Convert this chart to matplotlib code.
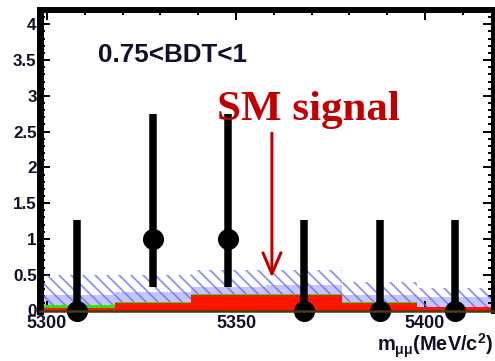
import numpy as np
import matplotlib
matplotlib.use("Agg")
import matplotlib.pyplot as plt
from matplotlib.ticker import MultipleLocator, FixedLocator

# ---- data ----
bin_edges = [5298, 5318, 5338, 5358, 5378, 5398, 5418]
comb_bkg = [0.04, 0.11, 0.22, 0.22, 0.11, 0.05]          # red
peak_bkg = [0.035, 0.015, 0.015, 0.015, 0.005, 0.0]      # green
band_solid_top = [0.21, 0.26, 0.33, 0.35, 0.21, 0.19]    # lavender top
band_hatch_top = [0.49, 0.50, 0.57, 0.56, 0.40, 0.31]    # hatched top

data_x = [5308, 5328, 5348, 5368, 5388, 5408]
data_y = [0, 1, 1, 0, 0, 0]
err_lo = [0, 0.67, 0.67, 0, 0, 0]
err_hi = [1.27, 1.74, 1.74, 1.27, 1.27, 1.27]

xticks_major = [5300, 5350, 5400]
xtick_labels = ["5300", "5350", "5400"]
yticks_major = [0, 0.5, 1, 1.5, 2, 2.5, 3, 3.5, 4]
ytick_labels = ["0", "0.5", "1", "1.5", "2", "2.5", "3", "3.5", "4"]

# ---- figure ----
W, H, DPI = 495, 361, 72
fig = plt.figure(figsize=(W / DPI, H / DPI), dpi=DPI)
ax = fig.add_axes([39.5 / W, 1 - 310.5 / H, (493 - 39.5) / W, (310.5 - 10) / H])
ax.set_xlim(bin_edges[0], bin_edges[-1])
ax.set_ylim(0, 4.2)

plt.rcParams['hatch.linewidth'] = 1.8
hatch_col = (0.42, 0.42, 0.95, 0.75)

edges = np.array(bin_edges, dtype=float)
widths = np.diff(edges)
lefts = edges[:-1]
red = np.array(comb_bkg)
green = np.array(peak_bkg)
lav = np.array(band_solid_top)
hat = np.array(band_hatch_top)

# lavender solid
ax.bar(lefts, lav, width=widths, align='edge', color='#c6c6ff', linewidth=0, zorder=1)
# hatched band
ax.bar(lefts, hat, width=widths, align='edge', facecolor='none',
       edgecolor=hatch_col, hatch='\\\\', linewidth=0, zorder=2)
# green and red
ax.bar(lefts, green, bottom=red, width=widths, align='edge', color='#2ee600', linewidth=0, zorder=3)
ax.bar(lefts, red, width=widths, align='edge', color='#ff1400', linewidth=0, zorder=4)

# data points
ax.errorbar(data_x, data_y, yerr=[err_lo, err_hi], fmt='o', color='black',
            markersize=20, elinewidth=7.5, capsize=0, zorder=6, clip_on=False)

# text
ax.text(5313.5, 3.47, "0.75<BDT<1", fontsize=26, fontweight='bold',
        family='Liberation Sans', color='#101028', ha='left', va='baseline', zorder=7)
ax.text(5345.0, 2.66, "SM signal", fontsize=43, fontweight='bold',
        family='Liberation Serif', color='#c00000', ha='left', va='baseline', zorder=7)
ax.annotate("", xy=(5359.5, 0.46), xytext=(5359.5, 2.48),
            arrowprops=dict(arrowstyle='->,head_length=1.05,head_width=0.45',
                            color='#c00000', lw=3, mutation_scale=20,
                            shrinkA=0, shrinkB=0), zorder=7)

# x label
plt.rcParams['mathtext.fontset'] = 'custom'
plt.rcParams['mathtext.rm'] = 'Liberation Sans:bold'
plt.rcParams['mathtext.it'] = 'Liberation Sans:bold'
plt.rcParams['mathtext.bf'] = 'Liberation Sans:bold'
fig.text(493 / W, 1 - 346 / H, r"m$_{\mathrm{μμ}}$(MeV/c$^{\mathrm{2}}$)", fontsize=20,
         fontweight='bold', family='Liberation Sans', color='#101028', ha='right', va='center')

# spines
ax.spines['left'].set_linewidth(7)
ax.spines['top'].set_linewidth(6)
ax.spines['right'].set_linewidth(5)
ax.spines['bottom'].set_linewidth(2.5)
ax.spines['bottom'].set_color('#4a3a10')
for s in ax.spines.values():
    s.set_zorder(8)

# ticks
ax.xaxis.set_major_locator(FixedLocator(xticks_major))
ax.set_xticklabels(xtick_labels)
ax.xaxis.set_minor_locator(MultipleLocator(10))
ax.yaxis.set_major_locator(FixedLocator(yticks_major))
ax.set_yticklabels(ytick_labels)
ax.yaxis.set_minor_locator(MultipleLocator(0.1))
ax.tick_params(which='both', direction='in', top=True, right=True, width=2, color='black')
ax.tick_params(which='major', length=10)
ax.tick_params(which='minor', length=5)
ax.tick_params(axis='x', which='major', pad=5, labelsize=18, labelcolor='#101028')
ax.tick_params(axis='y', which='major', pad=3, labelsize=17, labelcolor='#101028')
for lab in ax.get_xticklabels() + ax.get_yticklabels():
    lab.set_fontweight('bold')
    lab.set_family('Liberation Sans')

fig.savefig("out.png", dpi=DPI, facecolor='white')
